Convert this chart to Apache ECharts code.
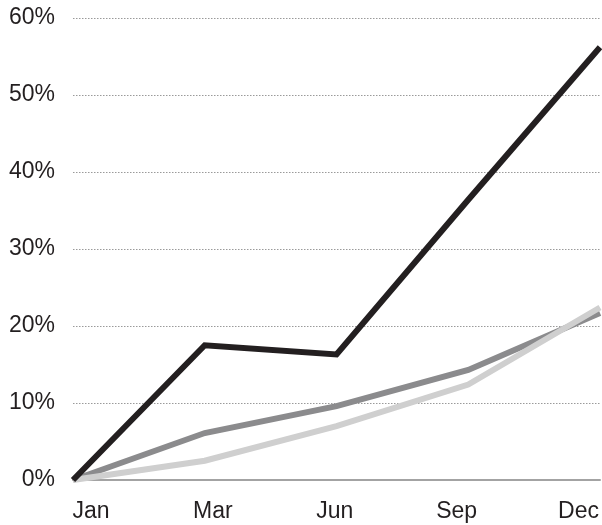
<!DOCTYPE html>
<html lang="en">

<head>
    <meta charset="UTF-8">
    <script src="https://cdn.jsdelivr.net/npm/echarts@6/dist/echarts.min.js"></script>
    <title>growth lines</title>
    <style>
        body { margin: 0; background: #fff; }
    </style>
</head>

<body>
    <div id="lineChart" style="width: 602px;height: 525px;"></div>
    <script>
        var months = ['Jan', 'Mar', 'Jun', 'Sep', 'Dec'];
        var blackValues = [0, 17.5, 16.3, 36.4, 56.2];
        var darkValues = [0, 6.1, 9.6, 14.3, 21.7];
        var lightValues = [0, 2.5, 7.0, 12.4, 22.4];
        var yTicks = [0, 10, 20, 30, 40, 50, 60];

        var font = "'Liberation Sans', Arial, Helvetica, sans-serif";
        var chart = echarts.init(document.getElementById('lineChart'));

        function lineSeries(name, data, color) {
            return {
                name: name,
                type: 'line',
                data: data,
                symbol: 'none',
                lineStyle: { color: color, width: 6, join: 'miter' },
                xAxisIndex: 0,
                yAxisIndex: 0
            };
        }

        chart.setOption({
            animation: false,
            grid: [
                { left: 73, right: 2, top: 18, bottom: 45 },
                // label-only grid, labels sit a bit off the data points
                { left: 91, right: 23, top: 18, bottom: 45 }
            ],
            xAxis: [
                {
                    type: 'category',
                    gridIndex: 0,
                    data: months,
                    boundaryGap: false,
                    axisLine: { lineStyle: { color: '#a3a3a3', width: 2 } },
                    axisTick: { show: false },
                    axisLabel: { show: false },
                    splitLine: { show: false }
                },
                {
                    type: 'category',
                    gridIndex: 1,
                    data: months,
                    boundaryGap: false,
                    axisLine: { show: false },
                    axisTick: { show: false },
                    axisLabel: {
                        color: '#231f20',
                        fontSize: 23,
                        fontFamily: font,
                        margin: 20,
                        interval: 0
                    }
                }
            ],
            yAxis: [
                {
                    type: 'value',
                    gridIndex: 0,
                    min: yTicks[0],
                    max: yTicks[yTicks.length - 1],
                    interval: 10,
                    axisLine: { show: false },
                    axisTick: { show: false },
                    axisLabel: {
                        color: '#231f20',
                        fontSize: 23,
                        fontFamily: font,
                        margin: 18,
                        formatter: '{value}%'
                    },
                    splitLine: {
                        lineStyle: { color: '#9a9a9a', width: 1, type: [1.5, 1.5] }
                    }
                },
                {
                    type: 'value',
                    gridIndex: 1,
                    min: 0,
                    max: 60,
                    show: false
                }
            ],
            series: [
                lineSeries('Dark', darkValues, '#8b8b8d'),
                lineSeries('Light', lightValues, '#cfcfcf'),
                lineSeries('Black', blackValues, '#231f20')
            ]
        });
    </script>
</body>

</html>
